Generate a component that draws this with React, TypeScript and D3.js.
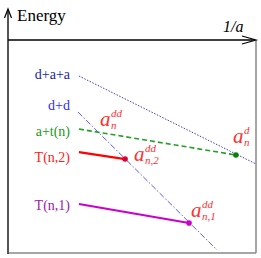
import React from 'react';
import * as d3 from 'd3';

// series: each one is a straight segment in (1/a, energy) space
const names = ['d+a+a', 'd+d', 'a+t(n)', 'T(n,2)', 'T(n,1)'];
const startX = [28.6, 28.2, 28.6, 28.6, 28.6];
const startY = [83.1, 66.2, 58.2, 47.4, 23.0];
const endX = [100, 84.3, 91.9, 47.2, 73.0];
const endY = [41.8, 1.4, 46.0, 44.1, 14.1];
const labelY = [81.7, 67.1, 54.9, 42.7, 20.2];
const hasDot = [false, false, true, true, true];

// annotations a_{sub}^{sup}
const annSub = ['n', 'n,2', 'n', 'n,1'];
const annSup = ['dd', 'dd', 'd', 'dd'];
const annX = [37.1, 50.8, 90.7, 73.8];
const annY = [59.6, 43.2, 51.6, 16.9];

const labelColor = ['#1c1ca0', '#2e2eff', '#229922', '#ff2020', '#a020a8'];
const lineColor = ['#3c3cc8', '#5a5aff', '#22a022', '#ff0000', '#cc00cc'];
const dotColor = ['none', 'none', '#0c800c', '#dd0030', '#cc00cc'];
const dash = ['1.5,1.5', '6,2,1.5,2', '5,3', null, null];
const widths = [1, 1, 1.6, 2.2, 2.2];

export default function App() {
  const W = 261, H = 258;
  const x = d3.scaleLinear().domain([0, 100]).range([8, 256]);
  const y = d3.scaleLinear().domain([0, 100]).range([253, 40]);
  const serif = { fontFamily: "'Times New Roman', 'Liberation Serif', 'DejaVu Serif', serif" };

  return (
    <svg width={W} height={H} style={{ position: 'absolute', left: 0, top: 0, background: '#fff' }}>
      {/* frame */}
      <line x1={x(0)} y1={y(0)} x2={x(100)} y2={y(0)} stroke="#888" strokeWidth={1.5} />
      <line x1={x(100)} y1={y(0)} x2={x(100)} y2={y(100)} stroke="#888" strokeWidth={1.5} />
      <line x1={x(0)} y1={y(0) + 1} x2={x(0)} y2={10} stroke="#555" strokeWidth={2} />
      <line x1={x(0)} y1={y(100)} x2={x(100) - 1} y2={y(100)} stroke="#000" strokeWidth={1.4} />
      {/* arrowheads */}
      <path d={`M${x(0) - 3.5},${18} L${x(0)},${9} L${x(0) + 3.5},${18}`} fill="none" stroke="#000" strokeWidth={1.2} />
      <path d={`M${x(100) - 14},${y(100) - 4} L${x(100)},${y(100)} L${x(100) - 14},${y(100) + 4}`} fill="none" stroke="#000" strokeWidth={1.2} />
      <text x={17} y={21} style={serif} fontSize={17} fill="#000">Energy</text>
      <text x={223} y={32} style={serif} fontSize={16} fontStyle="italic" fill="#000">1/a</text>

      {names.map((n, i) => (
        <g key={n}>
          <text x={x(25)} y={y(labelY[i])} textAnchor="end" style={serif} fontSize={14} fill={labelColor[i]}>{n}</text>
          <line
            x1={x(startX[i])} y1={y(startY[i])} x2={x(endX[i])} y2={y(endY[i])}
            stroke={lineColor[i]} strokeWidth={widths[i]}
            strokeDasharray={dash[i] ?? undefined}
          />
          {hasDot[i] && <circle cx={x(endX[i])} cy={y(endY[i])} r={2.8} fill={dotColor[i]} />}
        </g>
      ))}

      {annSub.map((s, i) => (
        <g key={'a' + i} style={serif} fontStyle="italic" fill="#ff3030">
          <text x={x(annX[i])} y={y(annY[i])} fontSize={21}>a</text>
          <text x={x(annX[i]) + 11} y={y(annY[i]) - 9} fontSize={11}>{annSup[i]}</text>
          <text x={x(annX[i]) + 11} y={y(annY[i]) + 3} fontSize={11}>{s}</text>
        </g>
      ))}
    </svg>
  );
}
